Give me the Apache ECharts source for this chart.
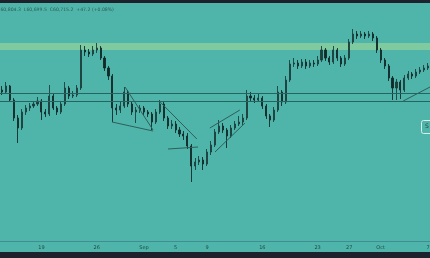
<!DOCTYPE html>
<html lang="en">
	<head>
		<meta charset="utf-8">
		<title>BTCUSD</title>
		<style>
			html, body { margin: 0; padding: 0; background: #4fb5aa; }
			#chart-main { width: 430px; height: 258px; }
		</style>
	</head>

	<body>
		<div id="chart-main"></div>

		<script src="https://cdn.jsdelivr.net/npm/echarts@6.0.0/dist/echarts.min.js"></script>
		<script type="text/javascript">
			//K线数据 (12h)
			var openData = [60500,60300,60900,59500,57700,56700,58300,58700,58900,59100,
				59400,58300,58100,59900,58700,58300,59100,60700,59900,60000,
				60700,64500,64300,64100,64500,64700,63700,62700,61900,58700,
				58500,58900,60300,59100,58300,58500,58700,58300,58100,57300,
				58300,59100,57700,56900,57100,56500,56100,55900,54900,52900,
				53300,53500,53100,54300,55000,56300,56900,56500,55900,56700,
				57100,57300,57700,59900,59700,59500,59700,58900,57900,57500,
				58500,60300,59300,61500,63100,63200,62900,63300,62900,63200,
				63100,63500,64500,63700,63300,64500,63700,63100,63700,65300,
				66100,65900,66100,65900,66100,65700,64500,63500,62900,61700,
				60700,61300,60500,61700,62100,61900,62300,62500,62700];
			var closeData = [60300,60900,59500,57700,56700,58300,58700,58900,59100,59400,
				58300,58100,59900,58700,58300,59100,60700,59900,60000,60700,
				64500,64300,64100,64500,64700,63700,62700,61900,58700,58500,
				58900,60300,59100,58300,58500,58700,58300,58100,57300,58300,
				59100,57700,56900,57100,56500,56100,55900,54900,52900,53300,
				53500,53100,54300,55000,56300,56900,56500,55900,56700,57100,
				57300,57700,59900,59700,59500,59700,58900,57900,57500,58500,
				60300,59300,61500,63100,63200,62900,63300,62900,63200,63100,
				63500,64500,63700,63300,64500,63700,63100,63700,65300,66100,
				65900,66100,65900,66100,65700,64500,63500,62900,61700,60700,
				61300,60500,61700,62100,61900,62300,62500,62700,62900];
			var lowData = [60000,60100,59300,57400,55200,56500,58000,58400,58700,58900,
				57500,57800,57900,58500,58000,58100,58900,59600,59700,59800,
				60500,63900,63800,63900,64200,63500,62400,61500,57300,58000,
				58200,58700,58800,58000,57200,58200,58000,57800,56500,57100,
				58100,57400,56600,56600,56200,55800,55500,54600,51300,52500,
				53000,52500,52900,54000,54800,56100,56200,54700,55700,56500,
				56900,57000,57500,59400,59200,59300,58600,57600,56800,57300,
				58300,58900,59100,61300,62800,62600,62700,62600,62700,62800,
				62900,63300,63400,63000,63100,63400,62800,62900,63500,65100,
				65600,65700,65600,65700,65400,64200,63200,62600,61400,59500,
				59500,59600,60300,61500,61600,61700,62100,62300,62500];
			var highData = [60900,61300,61000,59700,58000,58600,59000,59200,59400,59800,
				59600,58600,61000,60200,58900,59400,61300,60900,60400,61000,
				65000,64900,64600,64900,65200,64900,63900,62900,62100,59100,
				59300,60800,60500,59300,58800,59000,58900,58500,58300,58600,
				59500,59300,57900,57500,57400,56800,56400,56200,55100,53700,
				53900,53800,54600,55400,56600,57500,57200,56700,57000,57400,
				57900,58100,60500,60300,60000,60100,59900,59100,58100,58800,
				60900,60500,61900,63500,63700,63500,63600,63600,63500,63500,
				63900,64900,64700,63900,64900,64700,63900,64000,65600,66600,
				66400,66400,66300,66400,66300,65900,64700,63700,63100,61900,
				61600,61500,62000,62400,62300,62600,62800,63000,63200];

			//x轴刻度
			var tickIdx = [10, 24, 36, 44, 52, 66, 80, 88, 96, 108];
			var tickText = ['19', '26', 'Sep', '5', '9', '16', '23', '27', 'Oct', '7'];

			//水平线 / 区域
			var levelLines = [60200, 59400];
			var supplyZone = [64500, 65200];

			//趋势线 [索引, 价格]
			var trendLines = [
				[[27.9, 57300], [38.3, 56400]],
				[[31.2, 60800], [38.3, 56500]],
				[[40.1, 59300], [49.4, 55600]],
				[[42.1, 54600], [49.7, 54800]],
				[[52.7, 56700], [60.3, 58500]],
				[[54.0, 54300], [61.6, 57200]],
				[[101.7, 59400], [108.5, 60800]]
			];

			var mainChart = null;

			window.onload = function () {
				viewMainChart();
			};

			function buildCategories() {
				var cats = [];
				var start = Date.UTC(2024, 7, 14);
				for (var i = 0; i < openData.length; i++) {
					var d = new Date(start + i * 12 * 3600 * 1000);
					cats.push((d.getUTCMonth() + 1) + '/' + d.getUTCDate() + ' ' + (d.getUTCHours() ? '12:00' : '00:00'));
				}
				return cats;
			}

			function viewMainChart() {
				mainChart = echarts.init(document.getElementById('chart-main'), null, { renderer: 'canvas' });

				var kData = [];
				for (var i = 0; i < openData.length; i++) {
					kData.push([openData[i], closeData[i], lowData[i], highData[i]]);
				}
				var xMin = -0.5, xMax = openData.length - 0.5;

				let series = [
					//区域和水平线 (value x轴, 铺满整个宽度)
					{
						type: 'line',
						xAxisIndex: 1,
						data: [],
						silent: true,
						markArea: {
							silent: true,
							itemStyle: { color: 'rgba(178,224,150,0.5)' },
							data: [[{ coord: [xMin, supplyZone[0]] }, { coord: [xMax, supplyZone[1]] }]]
						},
						markLine: {
							silent: true,
							symbol: 'none',
							label: { show: false },
							lineStyle: { color: '#276360', width: 1, type: 'solid' },
							data: levelLines.map(function (v) {
								return [{ coord: [xMin, v] }, { coord: [xMax, v] }];
							})
						}
					},
					{
						type: 'candlestick',
						data: kData,
						barWidth: 1.6,
						itemStyle: {
							color: '#1c3f3c',
							color0: '#122b29',
							borderColor: '#1c3f3c',
							borderColor0: '#122b29',
							borderWidth: 0.9
						}
					}
				];

				trendLines.forEach(function (seg) {
					series.push({
						type: 'line',
						xAxisIndex: 1,
						data: seg,
						symbol: 'none',
						silent: true,
						lineStyle: { color: '#2d5f5b', width: 1 }
					});
				});

				let option = {
					backgroundColor: '#4fb5aa',
					animation: false,
					grid: { left: 0, right: 0, top: 12, bottom: 17, outerBoundsMode: 'none' },
					xAxis: [
						{
							type: 'category',
							data: buildCategories(),
							boundaryGap: true,
							axisLine: { show: true, lineStyle: { color: '#3f8f92', width: 1 } },
							axisTick: { show: false },
							splitLine: { show: false },
							axisLabel: {
								color: '#1e4a47',
								fontSize: 5,
								fontFamily: 'DejaVu Sans',
								margin: 4,
								hideOverlap: false,
								interval: function (idx) { return tickIdx.indexOf(idx) >= 0; },
								formatter: function (val, idx) {
									var k = tickIdx.indexOf(idx);
									return k >= 0 ? tickText[k] : '';
								}
							}
						},
						{
							type: 'value',
							min: xMin,
							max: xMax,
							show: false
						}
					],
					yAxis: {
						type: 'value',
						min: 45400,
						max: 68300,
						show: false,
						splitLine: { show: false }
					},
					graphic: [
						{ type: 'rect', left: 0, top: 0, shape: { width: 430, height: 3 }, style: { fill: '#1e222d' } },
						{ type: 'rect', left: 0, top: 252, shape: { width: 430, height: 6 }, style: { fill: '#1e222d' } },
						{
							type: 'text', left: -30, top: 7,
							style: {
								text: 'O60,668.0  H60,804.3  L60,699.5  C60,715.2  +47.2 (+0.08%)',
								fill: '#2c5c58', fontSize: 4.6, fontFamily: 'DejaVu Sans'
							}
						},
						{
							type: 'rect', left: 421, top: 120,
							shape: { width: 14, height: 13, r: 2 },
							style: { fill: '#4fb5aa', stroke: '#d6efe9', lineWidth: 1 }
						},
						{
							type: 'text', left: 425, top: 123,
							style: { text: 'S', fill: '#1e3d3b', fontSize: 6, fontFamily: 'DejaVu Sans' }
						}
					],
					series: series
				};
				mainChart.setOption(option);
			}
		</script>
	</body>
</html>
